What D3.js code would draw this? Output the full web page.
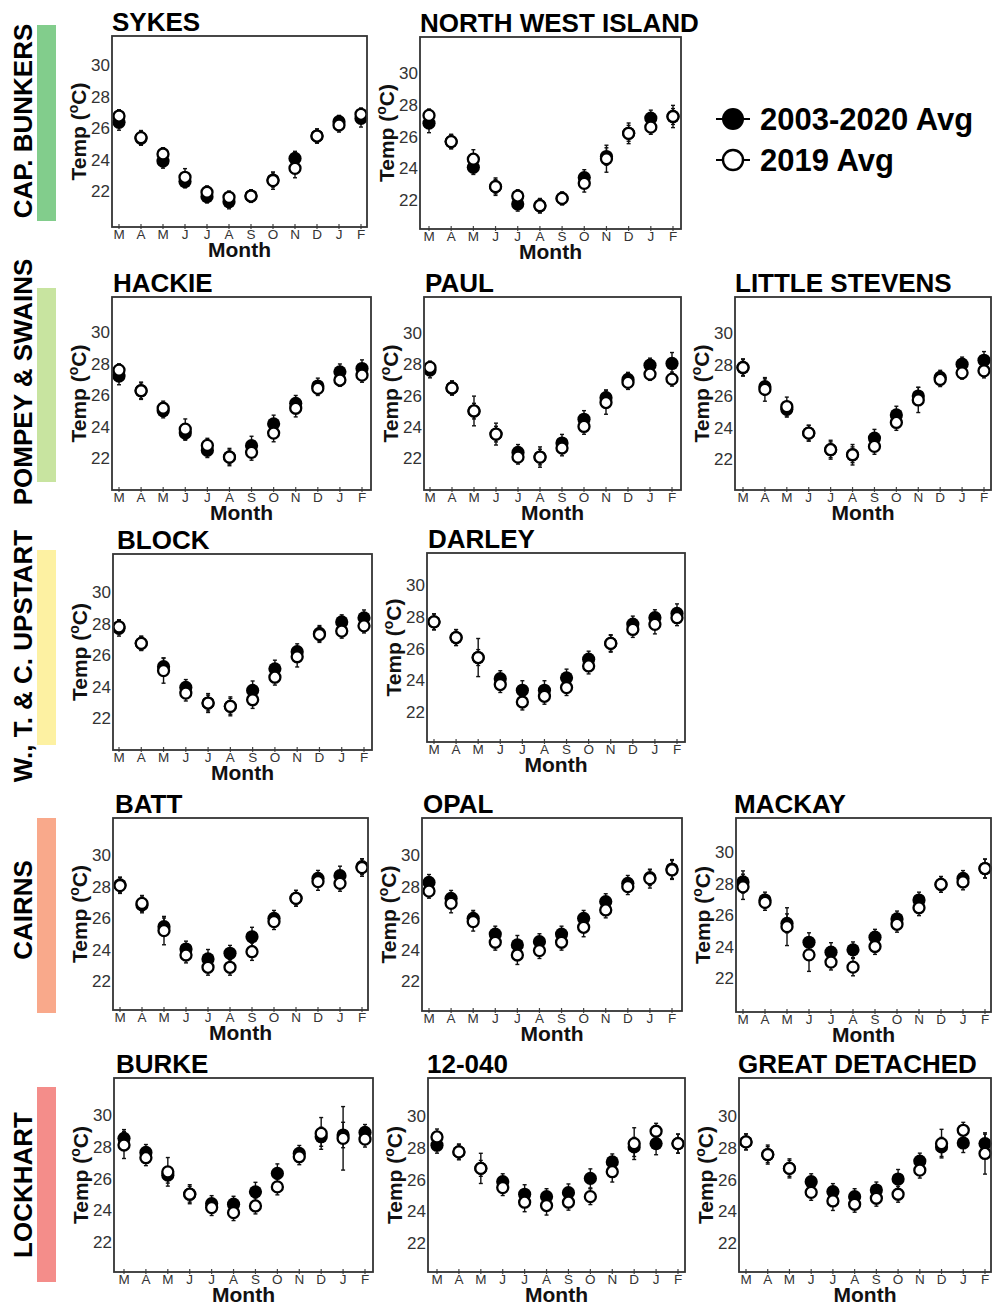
<!DOCTYPE html>
<html><head><meta charset="utf-8">
<script src="https://cdn.jsdelivr.net/npm/d3@7"></script>
<style>
body{margin:0;background:#fff}
svg{display:block}
text{font-family:"Liberation Sans",Arial,Helvetica,sans-serif}
</style>
</head><body>
<svg id="chart" width="993" height="1305"></svg>
<script>
// ---------- data ----------
const months = ["M","A","M","J","J","A","S","O","N","D","J","F"];
const yTicks = [22,24,26,28,30];
const seriesNames = ["2003-2020 Avg","2019 Avg"];
const regions = ["CAP. BUNKERS","POMPEY & SWAINS","W., T. & C. UPSTART","CAIRNS","LOCKHART"];
const sites = ["SYKES","NORTH WEST ISLAND","HACKIE","PAUL","LITTLE STEVENS","BLOCK","DARLEY","BATT","OPAL","MACKAY","BURKE","12-040","GREAT DETACHED"];

const sykesAvg  = [26.36,25.35,23.9,22.6,21.64,21.32,21.68,22.7,24.07,25.49,26.4,26.61];
const sykes2019 = [26.76,25.39,24.35,22.87,21.92,21.6,21.68,22.66,23.44,25.49,26.19,26.87];
const sykesAvgSE  = [0.5,0.45,0.45,0.4,0.4,0.45,0.4,0.45,0.45,0.45,0.4,0.55];
const sykes2019SE = [0.4,0.45,0.4,0.55,0.4,0.4,0.4,0.55,0.6,0.45,0.45,0.4];

const nwiAvg  = [26.84,25.68,24.06,22.84,21.75,21.64,22.1,23.41,24.74,26.2,27.16,27.26];
const nwi2019 = [27.33,25.68,24.57,22.84,22.25,21.64,22.1,23.05,24.6,26.2,26.59,27.26];
const nwiAvgSE  = [0.6,0.45,0.45,0.45,0.45,0.45,0.4,0.5,0.55,0.5,0.5,0.5];
const nwi2019SE = [0.4,0.45,0.6,0.55,0.4,0.45,0.4,0.55,0.85,0.65,0.45,0.7];

const hackieAvg  = [27.2,26.27,25.0,23.58,22.48,22.06,22.78,24.17,25.47,26.57,27.47,27.68];
const hackie2019 = [27.58,26.27,25.16,23.83,22.8,22.06,22.36,23.58,25.16,26.42,26.95,27.26];
const hackieAvgSE  = [0.55,0.55,0.45,0.45,0.45,0.45,0.6,0.55,0.5,0.5,0.5,0.55];
const hackie2019SE = [0.4,0.5,0.45,0.65,0.45,0.55,0.5,0.55,0.55,0.45,0.4,0.45];

const paulAvg  = [27.63,26.48,25.0,23.53,22.36,22.06,22.96,24.48,25.86,27.03,27.94,28.05];
const paul2019 = [27.8,26.48,25.01,23.53,22.06,22.06,22.64,24.02,25.55,26.84,27.37,27.05];
const paulAvgSE  = [0.5,0.45,0.5,0.5,0.5,0.5,0.55,0.55,0.5,0.45,0.45,0.7];
const paul2019SE = [0.4,0.45,0.95,0.7,0.45,0.65,0.5,0.5,0.75,0.45,0.4,0.45];

const stevensAvg  = [27.81,26.59,25.16,23.64,22.59,22.27,23.33,24.8,26.0,27.18,28.02,28.27];
const stevens2019 = [27.81,26.42,25.33,23.64,22.59,22.27,22.8,24.32,25.75,27.05,27.47,27.6];
const stevensAvgSE  = [0.5,0.5,0.5,0.5,0.5,0.5,0.55,0.55,0.55,0.45,0.45,0.55];
const stevens2019SE = [0.55,0.75,0.6,0.5,0.6,0.65,0.5,0.5,0.8,0.45,0.4,0.45];

const blockAvg  = [27.7,26.74,25.26,23.94,22.95,22.74,23.75,25.12,26.21,27.37,28.1,28.36];
const block2019 = [27.79,26.74,25.01,23.58,22.95,22.74,23.16,24.59,25.89,27.3,27.52,27.85];
const blockAvgSE  = [0.5,0.45,0.55,0.5,0.5,0.5,0.6,0.55,0.5,0.5,0.45,0.5];
const block2019SE = [0.45,0.45,0.8,0.5,0.6,0.6,0.55,0.5,0.65,0.5,0.45,0.45];

const darleyAvg  = [27.68,26.69,25.43,24.1,23.37,23.37,24.15,25.33,26.32,27.54,27.94,28.21];
const darley2019 = [27.68,26.69,25.43,23.73,22.63,22.99,23.54,24.9,26.32,27.2,27.52,27.94];
const darleyAvgSE  = [0.5,0.5,0.5,0.5,0.6,0.6,0.55,0.5,0.5,0.5,0.5,0.6];
const darley2019SE = [0.5,0.5,1.2,0.5,0.5,0.5,0.5,0.5,0.55,0.5,0.6,0.5];

const battAvg  = [28.1,26.83,25.45,24.03,23.4,23.76,24.81,25.98,27.25,28.52,28.69,29.26];
const batt2019 = [28.06,26.93,25.2,23.65,22.87,22.87,23.86,25.77,27.25,28.31,28.2,29.2];
const battAvgSE  = [0.5,0.5,0.55,0.5,0.6,0.5,0.6,0.5,0.5,0.5,0.6,0.5];
const batt2019SE = [0.5,0.5,0.9,0.5,0.5,0.5,0.55,0.5,0.5,0.55,0.5,0.55];

const opalAvg  = [28.26,27.25,25.98,24.98,24.29,24.5,24.98,25.98,27.04,28.2,28.56,29.11];
const opal2019 = [27.71,26.93,25.77,24.46,23.65,23.93,24.46,25.41,26.51,27.99,28.5,29.05];
const opalAvgSE  = [0.5,0.5,0.5,0.5,0.6,0.5,0.5,0.5,0.5,0.5,0.5,0.6];
const opal2019SE = [0.45,0.6,0.6,0.5,0.6,0.5,0.5,0.6,0.5,0.5,0.6,0.6];

const mackayAvg  = [28.1,26.95,25.47,24.27,23.64,23.79,24.59,25.75,26.95,27.94,28.32,28.95];
const mackay2019 = [27.79,26.8,25.26,23.47,23.01,22.69,24.0,25.41,26.46,27.94,28.1,28.95];
const mackayAvgSE  = [0.7,0.5,0.6,0.6,0.6,0.5,0.5,0.5,0.5,0.5,0.5,0.6];
const mackay2019SE = [0.8,0.5,1.2,1.05,0.5,0.55,0.5,0.5,0.5,0.5,0.5,0.6];

const burkeAvg  = [28.53,27.64,26.21,25.01,24.42,24.38,25.16,26.32,27.58,28.63,28.74,28.9];
const burke2019 = [28.11,27.31,26.42,25.01,24.17,23.85,24.27,25.47,27.37,28.84,28.53,28.48];
const burkeAvgSE  = [0.55,0.5,0.5,0.5,0.5,0.5,0.6,0.6,0.5,0.6,0.8,0.5];
const burke2019SE = [0.85,0.5,0.9,0.6,0.5,0.5,0.5,0.5,0.5,1.0,2.0,0.5];

const r12040Avg  = [28.16,27.74,26.7,25.86,25.07,24.92,25.17,26.07,27.11,28.05,28.26,28.26];
const r120402019 = [28.68,27.74,26.7,25.49,24.57,24.36,24.57,24.92,26.49,28.26,29.04,28.26];
const r12040AvgSE  = [0.5,0.45,0.5,0.5,0.6,0.5,0.55,0.6,0.5,0.6,0.7,0.6];
const r120402019SE = [0.5,0.5,0.95,0.5,0.6,0.6,0.5,0.5,0.65,1.0,0.5,0.6];

const greatAvg  = [28.37,27.57,26.7,25.86,25.24,24.92,25.34,26.03,27.16,28.05,28.3,28.26];
const great2019 = [28.37,27.57,26.7,25.19,24.65,24.44,24.82,25.07,26.59,28.26,29.1,27.64];
const greatAvgSE  = [0.5,0.5,0.5,0.5,0.5,0.5,0.5,0.6,0.5,0.6,0.6,0.6];
const great2019SE = [0.5,0.6,0.6,0.5,0.6,0.5,0.5,0.5,0.5,0.9,0.5,1.3];

const siteData = [
  [sykesAvg, sykes2019, sykesAvgSE, sykes2019SE],
  [nwiAvg, nwi2019, nwiAvgSE, nwi2019SE],
  [hackieAvg, hackie2019, hackieAvgSE, hackie2019SE],
  [paulAvg, paul2019, paulAvgSE, paul2019SE],
  [stevensAvg, stevens2019, stevensAvgSE, stevens2019SE],
  [blockAvg, block2019, blockAvgSE, block2019SE],
  [darleyAvg, darley2019, darleyAvgSE, darley2019SE],
  [battAvg, batt2019, battAvgSE, batt2019SE],
  [opalAvg, opal2019, opalAvgSE, opal2019SE],
  [mackayAvg, mackay2019, mackayAvgSE, mackay2019SE],
  [burkeAvg, burke2019, burkeAvgSE, burke2019SE],
  [r12040Avg, r120402019, r12040AvgSE, r120402019SE],
  [greatAvg, great2019, greatAvgSE, great2019SE]
];

// ---------- layout (pixels) ----------
const panelLayout = [
  {box:[112,36,367,227],  y30:65,   y22:191,  xr:[119,361], tx:112},
  {box:[420,37,681,229],  y30:73,   y22:200,  xr:[429,673], tx:420},
  {box:[112,297,371,490], y30:332,  y22:458,  xr:[119,362], tx:113},
  {box:[424,297,681,490], y30:333,  y22:458,  xr:[430,672], tx:425},
  {box:[735,297,991,490], y30:333,  y22:459,  xr:[743,984], tx:735},
  {box:[113,554,372,750], y30:592,  y22:718,  xr:[119,364], tx:117},
  {box:[427,553,685,742], y30:585,  y22:712,  xr:[434,677], tx:428},
  {box:[113,818,368,1010],y30:855,  y22:981,  xr:[120,362], tx:115},
  {box:[422,818,682,1011],y30:855,  y22:981,  xr:[429,672], tx:423},
  {box:[736,818,991,1012],y30:852,  y22:978,  xr:[743,985], tx:734},
  {box:[114,1078,373,1272],y30:1115,y22:1242, xr:[124,365], tx:116},
  {box:[428,1078,685,1272],y30:1116,y22:1243, xr:[437,678], tx:427},
  {box:[739,1078,991,1272],y30:1116,y22:1243, xr:[746,985], tx:738}
];
const regionLayout = [
  {y0:25, y1:221, ty:121},
  {y0:288, y1:482, ty:382},
  {y0:550, y1:745, ty:656},
  {y0:818, y1:1013, ty:910},
  {y0:1087, y1:1282, ty:1185}
];
const regionColors = ["#82cd8c","#c8e4a0","#fdf1a2","#f9a98b","#f48d8a"];

// ---------- drawing ----------
const svg = d3.select("#chart");
svg.append("rect").attr("width",993).attr("height",1305).attr("fill","#fff");

sites.forEach((name, i) => {
  const L = panelLayout[i];
  const [avg, y19, seAvg, se19] = siteData[i];
  const [x0,y0,x1,y1] = L.box;
  const x = d3.scalePoint().domain(d3.range(months.length)).range(L.xr);
  const y = d3.scaleLinear().domain([22,30]).range([L.y22, L.y30]);
  const g = svg.append("g");

  g.append("text").attr("x", L.tx).attr("y", y0 - 5)
    .attr("font-size", 26).attr("font-weight", "bold").attr("fill", "#000").text(name);

  g.selectAll(".yt").data(yTicks).join("text")
    .attr("x", x0 - 2).attr("y", d => y(d)).attr("dy", "0.36em")
    .attr("text-anchor", "end").attr("font-size", 17).attr("fill", "#333")
    .text(d => d);

  g.selectAll(".xt").data(months).join("line")
    .attr("x1", (d,j) => x(j)).attr("x2", (d,j) => x(j))
    .attr("y1", y1 - 3).attr("y2", y1 + 2)
    .attr("stroke", "#444").attr("stroke-width", 1.2);
  g.selectAll(".xl").data(months).join("text")
    .attr("x", (d,j) => x(j)).attr("y", y1 + 12)
    .attr("text-anchor", "middle").attr("font-size", 13.5).attr("fill", "#333")
    .text(d => d);

  g.append("text").attr("x", (x0 + x1) / 2).attr("y", y1 + 30)
    .attr("text-anchor", "middle").attr("font-size", 21).attr("font-weight", "bold")
    .attr("fill", "#111").text("Month");
  const yl = g.append("text")
    .attr("transform", `translate(${x0 - 26},${(y0 + y1) / 2}) rotate(-90)`)
    .attr("text-anchor", "middle").attr("font-size", 21).attr("font-weight", "bold")
    .attr("fill", "#111");
  yl.append("tspan").text("Temp (");
  yl.append("tspan").attr("font-size", 14).attr("dy", -8).text("o");
  yl.append("tspan").attr("dy", 8).text("C)");

  const bars = [];
  avg.forEach((v,j) => bars.push({j, v, e: seAvg[j]}));
  y19.forEach((v,j) => bars.push({j, v, e: se19[j]}));
  const eb = g.append("g").attr("stroke", "#111").attr("stroke-width", 1.4);
  bars.forEach(b => {
    const cx = x(b.j), ya = y(b.v - b.e), yb = y(b.v + b.e);
    eb.append("line").attr("x1", cx).attr("x2", cx).attr("y1", ya).attr("y2", yb);
    eb.append("line").attr("x1", cx - 2).attr("x2", cx + 2).attr("y1", ya).attr("y2", ya);
    eb.append("line").attr("x1", cx - 2).attr("x2", cx + 2).attr("y1", yb).attr("y2", yb);
  });

  g.selectAll(".pf").data(avg).join("circle")
    .attr("cx", (d,j) => x(j)).attr("cy", d => y(d)).attr("r", 6.6)
    .attr("fill", "#000");
  g.selectAll(".po").data(y19).join("circle")
    .attr("cx", (d,j) => x(j)).attr("cy", d => y(d)).attr("r", 5.5)
    .attr("fill", "#fff").attr("stroke", "#000").attr("stroke-width", 2.3);

  g.append("rect").attr("x", x0).attr("y", y0).attr("width", x1 - x0).attr("height", y1 - y0)
    .attr("fill", "none").attr("stroke", "#333").attr("stroke-width", 1.8);
});

regions.forEach((r, i) => {
  const R = regionLayout[i];
  svg.append("rect").attr("x", 37).attr("y", R.y0).attr("width", 19).attr("height", R.y1 - R.y0)
    .attr("fill", regionColors[i]);
  svg.append("text")
    .attr("transform", `translate(32,${R.ty}) rotate(-90)`)
    .attr("text-anchor", "middle").attr("font-size", 26).attr("font-weight", "bold")
    .attr("fill", "#000").text(r);
});

const legY = [119, 160];
const leg = svg.append("g");
seriesNames.forEach((s, i) => {
  leg.append("line").attr("x1", 716).attr("x2", 750).attr("y1", legY[i]).attr("y2", legY[i])
    .attr("stroke", "#000").attr("stroke-width", 2);
  if (i === 0) {
    leg.append("circle").attr("cx", 733).attr("cy", legY[i]).attr("r", 11).attr("fill", "#000");
  } else {
    leg.append("circle").attr("cx", 733).attr("cy", legY[i]).attr("r", 10)
      .attr("fill", "#fff").attr("stroke", "#000").attr("stroke-width", 2.4);
  }
  leg.append("text").attr("x", 760).attr("y", legY[i]).attr("dy", "0.36em")
    .attr("font-size", 31).attr("font-weight", "bold").attr("fill", "#000").text(s);
});
</script>
</body></html>
